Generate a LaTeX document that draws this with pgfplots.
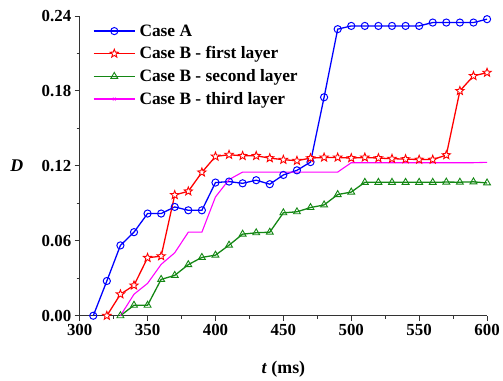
\documentclass[border=0pt]{standalone}
\usepackage{fontspec}
\setmainfont{Liberation Serif}
\usepackage{pgfplots}
\pgfplotsset{compat=1.18}
\usetikzlibrary{calc,plotmarks}
\definecolor{cA}{RGB}{0,0,255}
\definecolor{cB}{RGB}{255,0,0}
\definecolor{cC}{RGB}{20,135,20}
\definecolor{cD}{RGB}{255,0,255}
\pgfdeclareplotmark{pstar}{%
  \pgfpathmoveto{\pgfqpointpolar{90}{\pgfplotmarksize}}%
  \pgfpathlineto{\pgfqpointpolar{126}{0.42\pgfplotmarksize}}%
  \pgfpathlineto{\pgfqpointpolar{162}{\pgfplotmarksize}}%
  \pgfpathlineto{\pgfqpointpolar{198}{0.42\pgfplotmarksize}}%
  \pgfpathlineto{\pgfqpointpolar{234}{\pgfplotmarksize}}%
  \pgfpathlineto{\pgfqpointpolar{270}{0.42\pgfplotmarksize}}%
  \pgfpathlineto{\pgfqpointpolar{306}{\pgfplotmarksize}}%
  \pgfpathlineto{\pgfqpointpolar{342}{0.42\pgfplotmarksize}}%
  \pgfpathlineto{\pgfqpointpolar{18}{\pgfplotmarksize}}%
  \pgfpathlineto{\pgfqpointpolar{54}{0.42\pgfplotmarksize}}%
  \pgfpathclose
  \pgfusepathqfillstroke}
\begin{document}
\begin{tikzpicture}
\begin{axis}[
  scale only axis,
  width=409bp, height=301bp,
  xmin=300, xmax=600, ymin=0, ymax=0.24,
  axis lines=left,
  axis line style={black!80, line width=1pt, -},
  clip=false,
  xtick={300,350,...,600},
  xticklabels={300,350,400,450,500,550,600},
  minor xtick={325,375,...,575},
  ytick={0,0.06,0.12,0.18,0.24},
  yticklabels={0.00,0.06,0.12,0.18,0.24},
  minor ytick={0.03,0.09,0.15,0.21},
  tick align=outside,
  major tick length=5bp, minor tick length=3bp,
  tick style={black!80, line width=0.8pt},
  tick label style={font=\fontsize{17}{20}\selectfont\bfseries},
  scaled y ticks=false,
  xlabel={\textbf{\textit{t} (ms)}},
  ylabel={\textbf{\textit{D}}},
  label style={font=\fontsize{18}{21}\selectfont},
  ylabel style={rotate=-90, at={(rel axis cs:0,0.5)}, anchor=center, xshift=-63bp},
  xlabel style={at={(rel axis cs:0.5,0)}, anchor=center, yshift=-54bp},
  legend style={at={(rel axis cs:0.025,0.985)}, anchor=north west, draw=none, fill=none,
    font=\fontsize{17.5}{20}\selectfont\bfseries, row sep=5.2bp,
    /tikz/every even column/.append style={column sep=2pt},
    /tikz/every odd column/.append style={column sep=2pt}},
  legend cell align=left,
  every axis plot/.append style={line width=1.3pt},
  every axis plot post/.append style={legend image code/.code={\draw[line width=1.3pt, mark repeat=2,mark phase=2] plot coordinates {(0cm,0cm) (0.73cm,0cm) (1.46cm,0cm)};}},
]
\addplot[cA, mark=o, mark size=3.6bp, mark options={fill=white, line width=1pt}] coordinates {
(310,0) (320,0.0278) (330,0.0563) (340,0.0669) (350,0.0818) (360,0.0818) (370,0.0871)
(380,0.0844) (390,0.0844) (400,0.1066) (410,0.1074) (420,0.1060) (430,0.1085) (440,0.1053)
(450,0.1127) (460,0.1164) (470,0.1230) (480,0.1749) (490,0.2294) (500,0.2320) (510,0.2320)
(520,0.2320) (530,0.2320) (540,0.2320) (550,0.2320) (560,0.2347) (570,0.2347) (580,0.2347)
(590,0.2347) (600,0.2374)};
\addlegendentry{\textbf{Case A}}
\addplot[cB, mark=pstar, mark size=4.4bp, mark options={fill=white, line width=0.9pt}] coordinates {
(320,0) (330,0.0172) (340,0.0243) (350,0.0464) (360,0.0477) (370,0.0967) (380,0.0996)
(390,0.1148) (400,0.1275) (410,0.1289) (420,0.1280) (430,0.1280) (440,0.1262) (450,0.1249)
(460,0.1241) (470,0.1262) (480,0.1267) (490,0.1267) (500,0.1262) (510,0.1267) (520,0.1262)
(530,0.1257) (540,0.1254) (550,0.1250) (560,0.1250) (570,0.1286) (580,0.1800) (590,0.1920)
(600,0.1946)};
\addlegendentry{\textbf{Case B - first layer}}
\addplot[cC, mark=triangle, mark size=4bp, mark options={fill=cC!15, line width=0.9pt}] coordinates {
(330,0) (340,0.0084) (350,0.0084) (360,0.0291) (370,0.0323) (380,0.0409) (390,0.0467)
(400,0.0485) (410,0.0565) (420,0.0653) (430,0.0664) (440,0.0669) (450,0.0824) (460,0.0832)
(470,0.0866) (480,0.0887) (490,0.0970) (500,0.0990) (510,0.1068) (520,0.1068) (530,0.1068)
(540,0.1068) (550,0.1068) (560,0.1068) (570,0.1070) (580,0.1069) (590,0.1072) (600,0.1063)};
\addlegendentry{\textbf{Case B - second layer}}
\addplot[cD, line width=1.1pt, forget plot] coordinates {
(330,0) (340,0.0172) (350,0.0259) (360,0.0411) (370,0.0504) (380,0.0669) (390,0.0669)
(400,0.0951) (410,0.1090) (420,0.1150) (430,0.1150) (440,0.1150) (450,0.1150) (460,0.1150)
(470,0.1150) (480,0.1150) (490,0.1150) (500,0.1225) (510,0.1225) (520,0.1225) (530,0.1225)
(540,0.1225) (550,0.1225) (560,0.1225) (570,0.1225) (580,0.1225) (590,0.1225) (600,0.1228)};
\addlegendimage{cD, line width=1.1pt, mark=x, mark size=2bp, mark options={line width=0.8pt}}
\addlegendentry{\textbf{Case B - third layer}}
\end{axis}
\path[use as bounding box] ($(current axis.south west)+(-80bp,-65bp)$) rectangle ($(current axis.north east)+(14bp,16bp)$);
\end{tikzpicture}
\end{document}
